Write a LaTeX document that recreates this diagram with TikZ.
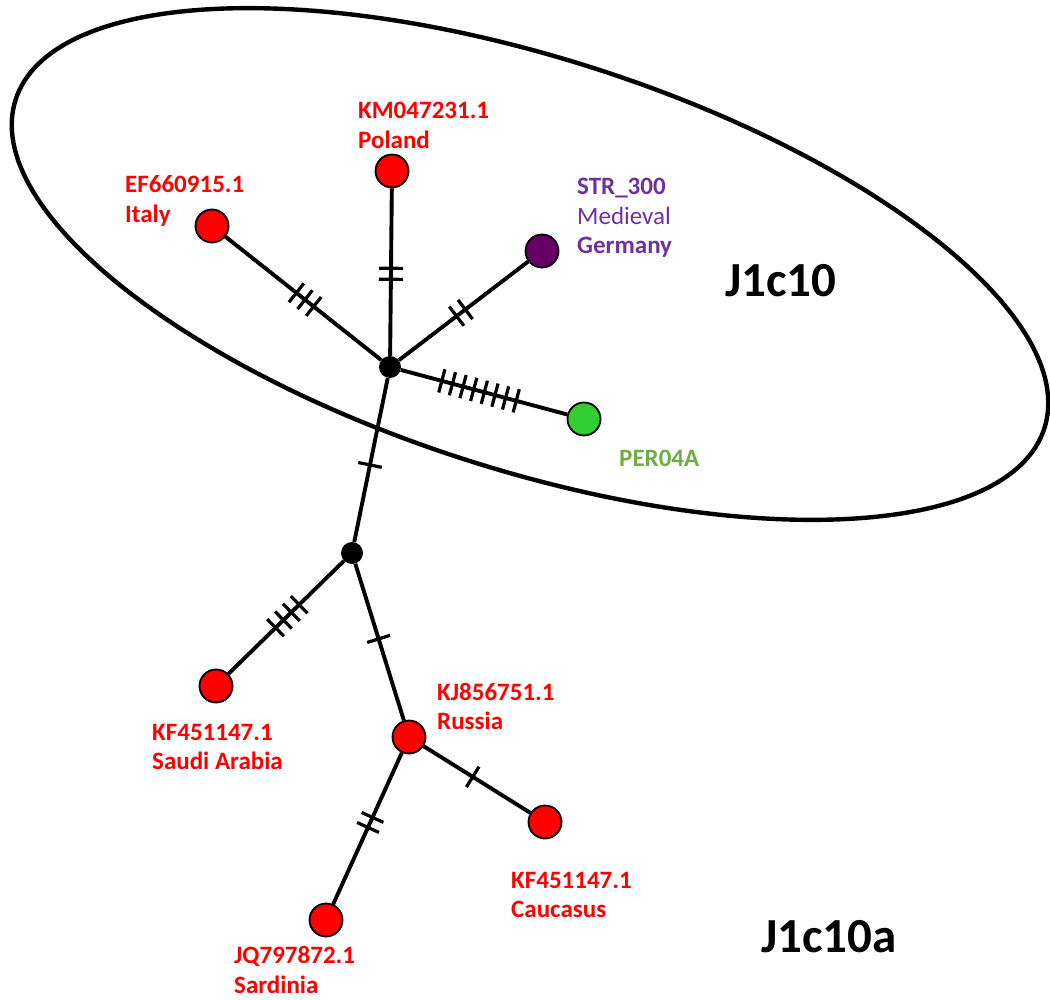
\documentclass[tikz,border=0pt]{standalone}
\usepackage{fontspec}
\setmainfont{Carlito}
\usetikzlibrary{decorations.markings}
\definecolor{hapred}{RGB}{255,0,0}
\definecolor{medpurple}{RGB}{102,0,102}
\definecolor{txtpurple}{RGB}{112,48,160}
\definecolor{hapgreen}{RGB}{51,204,51}
\definecolor{txtgreen}{RGB}{112,173,71}

\begin{document}
\begin{tikzpicture}[x=1pt,y=-1pt,
  hap/.style={circle, draw=black, line width=1.8pt, minimum size=33pt, inner sep=0pt},
  median/.style={circle, fill=black, minimum size=22pt, inner sep=0pt},
  link/.style={line width=3.9pt},
  % anchored at the baseline of the last line
  lbl/.style={anchor=base west, align=left, inner sep=0pt,
    font=\fontsize{25}{29.5}\selectfont\bfseries},
  clade/.style={anchor=base west, inner sep=0pt,
    font=\fontsize{49}{58}\selectfont\bfseries},
  mut/.style 2 args={postaction={decorate, decoration={markings,
      mark=at position #1 with {\foreach \k in {1,...,#2}{
        \draw[line width=3.2pt] ({(\k-(#2+1)/2)*11pt},-12pt) -- ++(0,24pt);}}}}}
]
\useasboundingbox (0,0) rectangle (1050,1000);

% clade boundary
\draw[line width=4.4pt, rotate around={-17.7:(530,264)}]
  (530,264) ellipse [x radius=540, y radius=206];

% median vectors
\node[median] (m1) at (390,367) {};
\node[median] (m2) at (352,553) {};

% haplotypes
\node[hap, fill=hapred]    (italy)  at (212,226) {};
\node[hap, fill=hapred]    (poland) at (392,171) {};
\node[hap, fill=medpurple] (str)    at (542,251) {};
\node[hap, fill=hapgreen]  (per)    at (584,419) {};
\node[hap, fill=hapred]    (saudi)  at (216,686) {};
\node[hap, fill=hapred]    (russia) at (409,737) {};
\node[hap, fill=hapred]    (cauc)   at (545,822) {};
\node[hap, fill=hapred]    (sard)   at (326,920) {};

% links with mutation ticks
\draw[link, mut={0.49}{3}] (m1) -- (italy);
\draw[link, mut={0.49}{2}] (m1) -- (poland);
\draw[link, mut={0.48}{2}] (m1) -- (str);
\draw[link, mut={0.47}{8}] (m1) -- (per);
\draw[link, mut={0.53}{1}] (m1) -- (m2);
\draw[link, mut={0.49}{4}] (m2) -- (saudi);
\draw[link, mut={0.48}{1}] (m2) -- (russia);
\draw[link, mut={0.46}{1}] (russia) -- (cauc);
\draw[link, mut={0.46}{2}] (russia) -- (sard);

% labels
\node[lbl, text=hapred]    (lpol) at (358,148.5) {KM047231.1\\Poland};
\node[lbl, text=hapred]    (lita) at (125,222.5) {EF660915.1\\Italy};
\node[lbl, text=txtpurple] (lstr) at (577,254) {STR\_300\\{\mdseries Medieval}\\Germany};
\node[lbl, text=txtgreen]  (lper) at (619,466) {PER04A};
\node[lbl, text=hapred]    (lrus) at (437,729.5) {KJ856751.1\\Russia};
\node[lbl, text=hapred]    (lsau) at (152,769.5) {KF451147.1\\Saudi Arabia};
\node[lbl, text=hapred]    (lcau) at (511,917.5) {KF451147.1\\Caucasus};
\node[lbl, text=hapred]    (lsar) at (234,993) {JQ797872.1\\Sardinia};

\node[clade] (c1) at (725,297) {J1c10};
\node[clade] (c2) at (761,952) {J1c10a};
\end{tikzpicture}
\end{document}
